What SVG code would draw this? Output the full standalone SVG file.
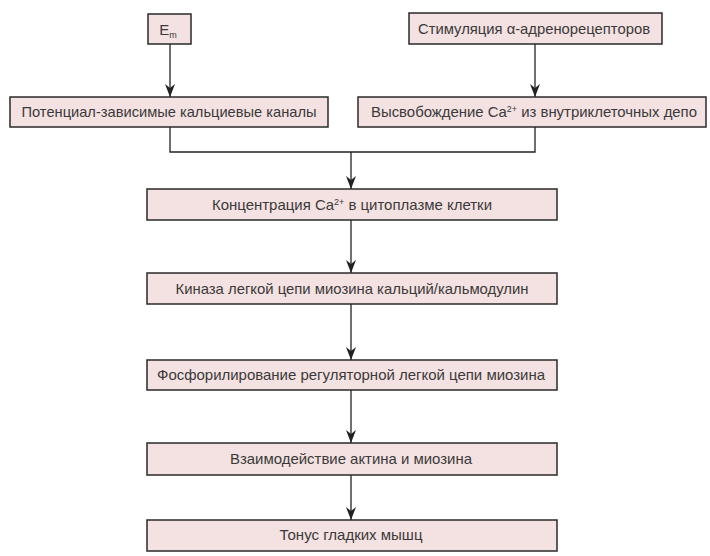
<svg xmlns="http://www.w3.org/2000/svg" width="710" height="556" viewBox="0 0 710 556">
<defs>
<marker id="ah" markerWidth="13" markerHeight="10" refX="13" refY="5" orient="auto" markerUnits="userSpaceOnUse" viewBox="0 0 13 10">
<path d="M0,0 L13,5 L0,10 L4,5 Z" fill="#222"/>
</marker>
<style>
.box{fill:#f4e1e1;stroke:#2a2a2a;stroke-width:1.5}
.t{font-family:"Liberation Sans","DejaVu Sans",sans-serif;font-size:15px;fill:#3a3a3a;text-anchor:middle}
.sup{font-size:9px}
.c{fill:none;stroke:#222;stroke-width:1.3}
</style>
</defs>
<rect width="710" height="556" fill="#fff"/>
<g id="connectors">
<line class="c" x1="170" y1="44" x2="170" y2="97" marker-end="url(#ah)"/>
<line class="c" x1="535" y1="44" x2="535" y2="97" marker-end="url(#ah)"/>
<polyline class="c" points="170,127 170,152 535,152 535,127"/>
<line class="c" x1="351" y1="152" x2="351" y2="189" marker-end="url(#ah)"/>
<line class="c" x1="351" y1="220" x2="351" y2="273" marker-end="url(#ah)"/>
<line class="c" x1="351" y1="304" x2="351" y2="360" marker-end="url(#ah)"/>
<line class="c" x1="351" y1="390" x2="351" y2="443" marker-end="url(#ah)"/>
<line class="c" x1="351" y1="475" x2="351" y2="520" marker-end="url(#ah)"/>
</g>
<g id="em">
<rect class="box" x="148" y="14" width="43" height="30"/>
<text class="t" x="168" y="35">E<tspan class="sup" dy="3">m</tspan></text>
</g>
<g id="alpha">
<rect class="box" x="409" y="13" width="253" height="31"/>
<text class="t" x="534" y="34" textLength="232" lengthAdjust="spacingAndGlyphs">Стимуляция α-адренорецепторов</text>
</g>
<g id="channels">
<rect class="box" x="10" y="97" width="318" height="30"/>
<text class="t" x="169" y="117" textLength="295" lengthAdjust="spacingAndGlyphs">Потенциал-зависимые кальциевые каналы</text>
</g>
<g id="release">
<rect class="box" x="358" y="97" width="348" height="30"/>
<text class="t" x="534" y="117" textLength="326" lengthAdjust="spacingAndGlyphs">Высвобождение Ca<tspan class="sup" dy="-5">2+</tspan><tspan dy="5"> из внутриклеточных депо</tspan></text>
</g>
<g id="conc">
<rect class="box" x="147" y="189" width="410" height="31"/>
<text class="t" x="352" y="210" textLength="280" lengthAdjust="spacingAndGlyphs">Концентрация Ca<tspan class="sup" dy="-5">2+</tspan><tspan dy="5"> в цитоплазме клетки</tspan></text>
</g>
<g id="kinase">
<rect class="box" x="147" y="273" width="410" height="31"/>
<text class="t" x="352" y="294" textLength="353" lengthAdjust="spacingAndGlyphs">Киназа легкой цепи миозина кальций/кальмодулин</text>
</g>
<g id="phospho">
<rect class="box" x="147" y="360" width="410" height="30"/>
<text class="t" x="351" y="380" textLength="388" lengthAdjust="spacingAndGlyphs">Фосфорилирование регуляторной легкой цепи миозина</text>
</g>
<g id="interaction">
<rect class="box" x="147" y="443" width="410" height="32"/>
<text class="t" x="351" y="464" textLength="242" lengthAdjust="spacingAndGlyphs">Взаимодействие актина и миозина</text>
</g>
<g id="tonus">
<rect class="box" x="147" y="520" width="410" height="31"/>
<text class="t" x="351" y="540" textLength="143" lengthAdjust="spacingAndGlyphs">Тонус гладких мышц</text>
</g>
</svg>
